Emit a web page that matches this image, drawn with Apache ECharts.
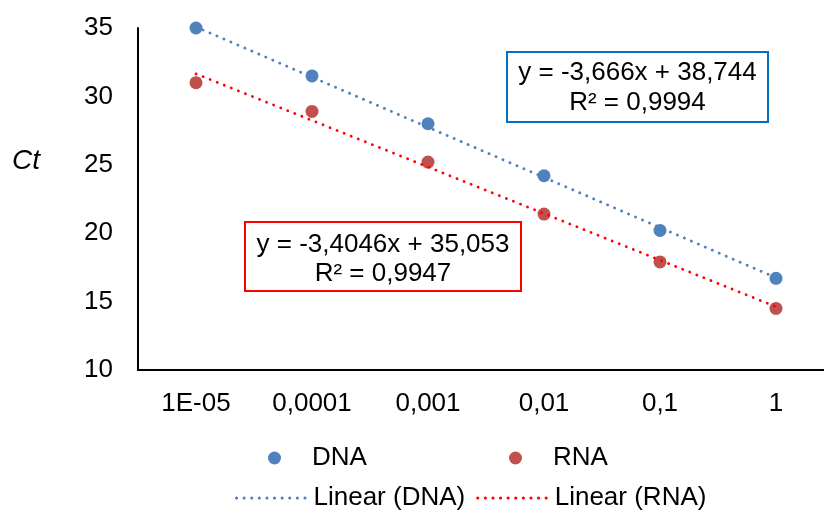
<!DOCTYPE html>
<html>
<head>
<meta charset="utf-8">
<script src="https://cdn.jsdelivr.net/npm/echarts@6/dist/echarts.min.js"></script>
<style>
html,body{margin:0;padding:0;background:#fff;}
#chart{width:824px;height:515px;}
</style>
</head>
<body>
<div id="chart"></div>
<script>
var categories = ['1E-05', '0,0001', '0,001', '0,01', '0,1', '1'];
var dnaValues = [35.0, 31.5, 28.0, 24.2, 20.2, 16.7];
var rnaValues = [31.0, 28.9, 25.2, 21.4, 17.9, 14.5];
// trendline end values (from the fitted equations shown on the chart)
var dnaTrend = [35.078, 16.748];
var rnaTrend = [31.649, 14.625];
var yTicks = {min: 10, max: 35, interval: 5};
var dnaEquation = ['y = -3,666x + 38,744', 'R² = 0,9994'];
var rnaEquation = ['y = -3,4046x + 35,053', 'R² = 0,9947'];

var FONT = '"Liberation Sans", Arial, sans-serif';
var FS = 26;
var chart = echarts.init(document.getElementById('chart'), null, {renderer: 'canvas'});

function trendData(vals) {
  return [[categories[0], vals[0]], [categories[categories.length - 1], vals[1]]];
}

var dotted = {width: 2.8, type: [0.1, 7.5], cap: 'round'};

chart.setOption({
  animation: false,
  backgroundColor: '#fff',
  textStyle: {fontFamily: FONT},
  grid: {left: 138, top: 28, width: 696, height: 342, containLabel: false, outerBoundsMode: 'none'},
  xAxis: {
    type: 'category',
    data: categories,
    boundaryGap: true,
    axisLine: {lineStyle: {color: '#000', width: 2}},
    axisTick: {show: false},
    splitLine: {show: false},
    axisLabel: {color: '#000', fontSize: FS, fontFamily: FONT, margin: 21, interval: 0}
  },
  yAxis: {
    type: 'value',
    min: yTicks.min, max: yTicks.max, interval: yTicks.interval,
    axisLine: {show: true, lineStyle: {color: '#000', width: 2}},
    axisTick: {show: false},
    splitLine: {show: false},
    axisLabel: {color: '#000', fontSize: FS, fontFamily: FONT, margin: 25}
  },
  legend: [
    {data: [{name: 'DNA', icon: 'circle'}], left: 263, top: 440, itemWidth: 13, itemHeight: 13,
     textStyle: {fontSize: FS, fontFamily: FONT, color: '#000', padding: [0, 0, 0, 26]}},
    {data: [{name: 'RNA', icon: 'circle'}], left: 504, top: 440, itemWidth: 13, itemHeight: 13,
     textStyle: {fontSize: FS, fontFamily: FONT, color: '#000', padding: [0, 0, 0, 26]}},
    {data: ['Linear (DNA)', 'Linear (RNA)'], left: 230, top: 480, itemWidth: 72, itemHeight: 12, itemGap: 11,
     itemStyle: {opacity: 0},
     lineStyle: {width: 3},
     textStyle: {fontSize: FS, fontFamily: FONT, color: '#000'}}
  ],
  series: [
    {name: 'DNA', type: 'scatter', data: dnaValues, symbol: 'circle', symbolSize: 13,
     itemStyle: {color: '#4F81BD', opacity: 1}, z: 2},
    {name: 'RNA', type: 'scatter', data: rnaValues, symbol: 'circle', symbolSize: 13,
     itemStyle: {color: '#C0504D', opacity: 1}, z: 2},
    {name: 'Linear (DNA)', type: 'line', data: trendData(dnaTrend), symbol: 'none', showSymbol: false,
     lineStyle: Object.assign({color: '#4F81BD'}, dotted), itemStyle: {color: '#4F81BD'}, z: 3},
    {name: 'Linear (RNA)', type: 'line', data: trendData(rnaTrend), symbol: 'none', showSymbol: false,
     lineStyle: Object.assign({color: '#FF0000'}, dotted), itemStyle: {color: '#FF0000'}, z: 3}
  ],
  graphic: [
    {type: 'text', left: 12, top: 147, style: {text: 'Ct', font: 'italic 28px ' + FONT, fill: '#000'}},
    {type: 'rect', shape: {x: 507, y: 52, width: 261, height: 70}, style: {fill: '#fff', stroke: '#0070C0', lineWidth: 2}, z: 10},
    {type: 'text', x: 637.5, y: 88, style: {text: dnaEquation.join('\n'), font: FS + 'px ' + FONT, fill: '#000', align: 'center', verticalAlign: 'middle', lineHeight: 30}, z: 11},
    {type: 'rect', shape: {x: 245, y: 222, width: 276, height: 69}, style: {fill: '#fff', stroke: '#FF0000', lineWidth: 2}, z: 10},
    {type: 'text', x: 383, y: 259.5, style: {text: rnaEquation.join('\n'), font: FS + 'px ' + FONT, fill: '#000', align: 'center', verticalAlign: 'middle', lineHeight: 29}, z: 11}
  ]
});
</script>
</body>
</html>
